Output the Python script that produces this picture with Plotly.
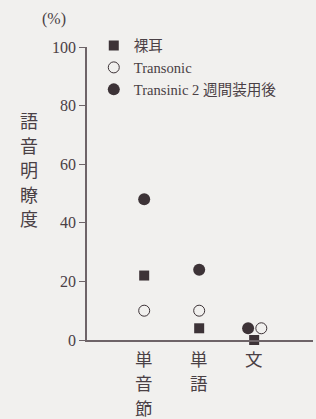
import plotly.graph_objects as go

categories = ["単音節", "単語", "文"]
series_names = ["裸耳", "Transonic", "Transinic 2 週間装用後"]
bare_ear = [22, 4, 0]
transonic = [10, 10, 4]
after_2w = [48, 24, 4]
y_ticks = [0, 20, 40, 60, 80, 100]
y_title = "語音明瞭度"
y_unit = "(%)"

ink = "#4a4045"
marker_col = "#3d3337"
bg = "#f1f0ee"
serif = "Liberation Serif, Noto Sans CJK JP, serif"
cjk = "Noto Sans CJK JP, sans-serif"

pos = list(range(1, len(categories) + 1))
# small horizontal nudges so overlapping markers stay visible (last category)
nudge_open = [0, 0, 0.13]
nudge_filled = [0, 0, -0.11]

fig = go.Figure()
fig.add_trace(go.Scatter(
    x=pos, y=bare_ear, mode="markers", name=series_names[0],
    marker=dict(symbol="square", size=10, color=marker_col),
    cliponaxis=False))
fig.add_trace(go.Scatter(
    x=[p + d for p, d in zip(pos, nudge_open)], y=transonic, mode="markers",
    name=series_names[1],
    marker=dict(symbol="circle-open", size=11, color=marker_col, line=dict(width=1)),
    cliponaxis=False))
fig.add_trace(go.Scatter(
    x=[p + d for p, d in zip(pos, nudge_filled)], y=after_2w, mode="markers",
    name=series_names[2],
    marker=dict(symbol="circle", size=12, color=marker_col),
    cliponaxis=False))

fig.update_layout(
    width=316, height=419,
    margin=dict(l=87, r=3, t=47, b=79),
    paper_bgcolor=bg, plot_bgcolor=bg,
    showlegend=True,
    legend=dict(x=0.03, y=1.06, xanchor="left", yanchor="top",
                font=dict(family=serif, size=14.6, color=ink),
                bgcolor="rgba(0,0,0,0)", tracegroupgap=0, itemwidth=30),
    font=dict(family=serif, color=ink),
)
fig.update_xaxes(
    range=[-0.04, 4.07], showgrid=False, zeroline=False, automargin=False,
    showline=True, linecolor="#6e6468", linewidth=1.5,
    tickvals=pos, ticktext=[""] * len(pos), ticks="",
)
fig.update_yaxes(
    range=[0, 100], showgrid=False, zeroline=False, automargin=False,
    showline=True, linecolor="#6e6468", linewidth=1.5,
    tickvals=y_ticks, ticks="outside", ticklen=6, tickcolor="#6e6468", tickwidth=1.2,
    tickfont=dict(family=serif, size=16, color=ink),
)
# vertical (stacked) category labels, one character per line
row_y = [-0.062, -0.146, -0.230]
for p, cat in zip(pos, categories):
    for i, ch in enumerate(cat):
        fig.add_annotation(text=ch, xref="x", yref="paper", x=p, y=row_y[i],
                           xanchor="center", yanchor="middle", showarrow=False,
                           font=dict(family=cjk, size=17.5, color=ink))
# vertical y-axis title, one character per line
title_y = [0.751, 0.6665, 0.582, 0.4975, 0.416]
for ch, ty in zip(y_title, title_y):
    fig.add_annotation(text=ch, xref="paper", yref="paper", x=-0.255, y=ty,
                       xanchor="center", yanchor="middle", showarrow=False,
                       font=dict(family=cjk, size=18, color=ink))
fig.add_annotation(text=y_unit, xref="paper", yref="paper",
                   x=-0.145, y=1.095, xanchor="center", yanchor="middle",
                   showarrow=False, font=dict(family=serif, size=16, color=ink))

fig.write_html("out.html", config={"displayModeBar": False},
               post_script="document.body.style.margin='0';document.body.style.overflow='hidden';")
